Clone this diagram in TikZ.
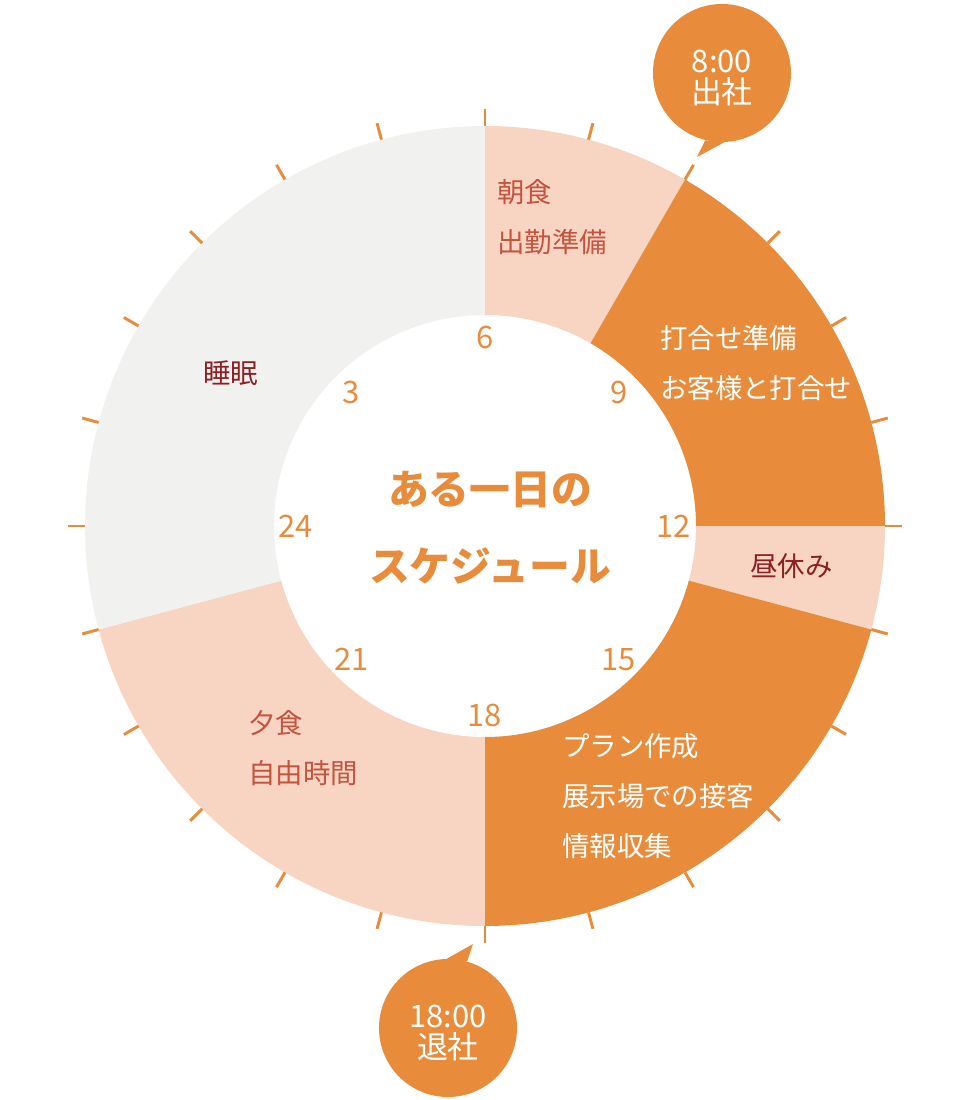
\documentclass[tikz,border=0pt]{standalone}
\usepackage{fontspec}
\setmainfont{Noto Sans CJK JP}
\usepackage{tikz}
\usetikzlibrary{calc}

\definecolor{dayorange}{HTML}{E88C3C}
\definecolor{daypink}{HTML}{F8D4C3}
\definecolor{daygray}{HTML}{F1F1EF}
\definecolor{dayred}{HTML}{C5533D}
\definecolor{daydark}{HTML}{8E1F22}

% one part of the ring, from angle #1 to angle #2
\newcommand{\ringpart}[3]{\fill[#3] (#1:400) arc[start angle=#1, end angle=#2, radius=400] -- (#2:211) arc[start angle=#2, end angle=#1, radius=211] -- cycle;}

\begin{document}
\begin{tikzpicture}[x=0.025cm, y=0.025cm,
    tickline/.style={dayorange, line width=2.1pt},
    hournum/.style={dayorange, font=\fontsize{22}{26}\selectfont, inner sep=0pt},
    parttext/.style={anchor=west, align=left, inner sep=0pt, font=\fontsize{19.5}{35.4}\selectfont},
    bubble/.style={circle, fill=dayorange, minimum size=3.45cm, inner sep=0pt},
    bubbletext/.style={text=white, inner sep=0pt, align=center, font=\fontsize{22}{22}\selectfont}]
                        \useasboundingbox (-485,-574) rectangle (485,526);
                        % the day, hour h at angle 180-15h
                        \ringpart{90}{60}{daypink}
                        \ringpart{60}{0}{dayorange}
                        \ringpart{0}{-15}{daypink}
                        \ringpart{-15}{-90}{dayorange}
                        \ringpart{-90}{-165}{daypink}
                        \ringpart{-165}{-270}{daygray}
                        \foreach \h in {0,...,23} \draw[tickline] (\h*15:400) -- (\h*15:417);
                        \foreach \h in {3,6,...,24} \node[hournum] (hour\h) at ({180-15*\h}:189) {\h};
                        % what is done
                        \node[parttext, text=dayred] (breakfast) at (12,309) {朝食\\出勤準備};
                        \node[parttext, text=white] (meeting) at (175,163) {打合せ準備\\お客様と打合せ};
                        \node[parttext, text=daydark] (lunch) at (265,-40) {昼休み};
                        \node[parttext, text=white] (work) at (77,-270) {プラン作成\\展示場での接客\\情報収集};
                        \node[parttext, text=dayred] (dinner) at (-237,-222) {夕食\\自由時間};
                        \node[parttext, text=daydark] (sleep) at (-282,153) {睡眠};
                        \node[dayorange, align=center, font=\fontsize{29}{54.6}\selectfont\bfseries] (title) at (5,-2) {ある一日の\\スケジュール};
                        % bubbles
                        \node[bubble] (goin) at (237,453) {};
                        \node[bubbletext] (goinText) at ($(goin)+(0,-5)$) {8:00\\出社};
                        \coordinate (goinTip) at (212,369);
                        \fill[dayorange] (goin.256) -- (goinTip) -- (goin.272) -- cycle;
                        \node[bubble] (goout) at (-37,-502) {};
                        \node[bubbletext] (gooutText) at ($(goout)+(0,-5)$) {18:00\\退社};
                        \coordinate (gooutTip) at (-12,-418);
                        \fill[dayorange] (goout.74) -- (gooutTip) -- (goout.91) -- cycle;
                    \end{tikzpicture}
\end{document}
